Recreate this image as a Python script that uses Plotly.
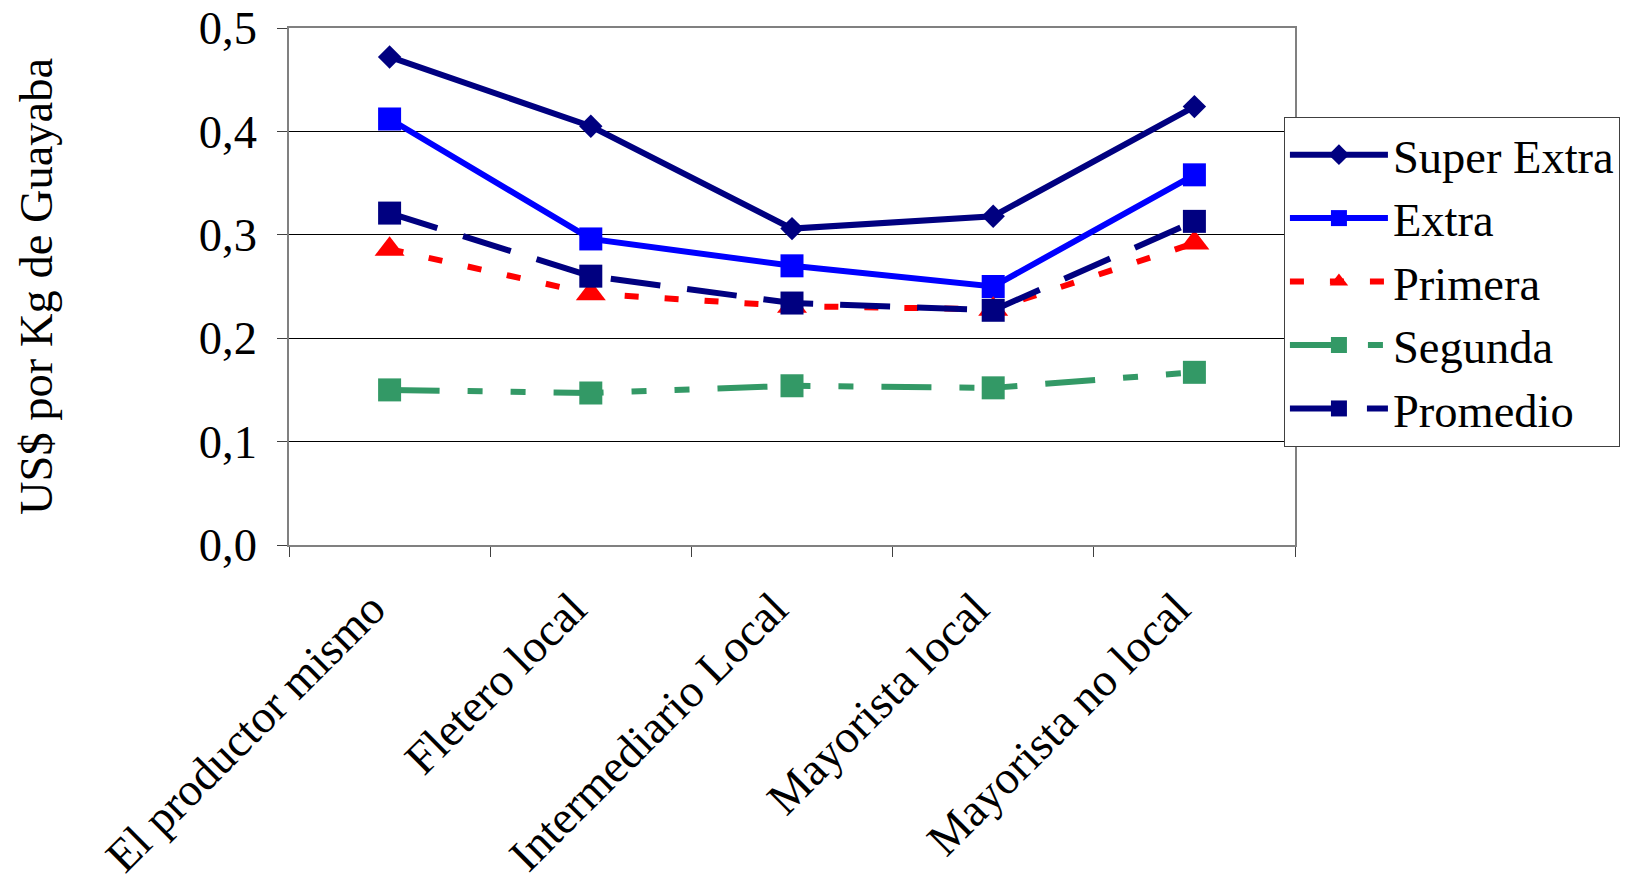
import plotly.graph_objects as go

categories = ["El productor mismo", "Fletero local", "Intermediario Local",
              "Mayorista local", "Mayorista no local"]
super_extra = [0.472, 0.405, 0.306, 0.318, 0.424]
extra = [0.412, 0.296, 0.270, 0.250, 0.358]
primera = [0.286, 0.243, 0.231, 0.228, 0.292]
segunda = [0.150, 0.147, 0.154, 0.152, 0.167]
promedio = [0.321, 0.260, 0.234, 0.227, 0.313]
y_ticks = [0.0, 0.1, 0.2, 0.3, 0.4, 0.5]
y_ticklabels = ["0,0", "0,1", "0,2", "0,3", "0,4", "0,5"]
y_title = "US$ por Kg de Guayaba"

FONT = "Liberation Serif, Times New Roman, serif"
FS = 46.5

series = [
    ("Super Extra", super_extra, "#000080", "solid", "diamond", 18),
    ("Extra", extra, "#0000FF", "solid", "square", 23),
    ("Primera", primera, "#FF0000", "14px,26px", "triangle-up", 26),
    ("Segunda", segunda, "#339966", "50px,28px,15px,28px,15px,28px", "square", 23),
    ("Promedio", promedio, "#000080", "50px,27px", "square", 23),
]

fig = go.Figure()
for name, vals, color, dash, symbol, size in series:
    fig.add_trace(go.Scatter(
        x=categories, y=vals, name=name, mode="lines+markers",
        line=dict(color=color, width=6, dash=dash),
        marker=dict(symbol=symbol, size=size, color=color, line=dict(width=0)),
    ))

fig.update_layout(
    width=1627, height=886,
    margin=dict(l=289, r=332, t=28, b=341, autoexpand=False),
    paper_bgcolor="white", plot_bgcolor="white",
    font=dict(family=FONT, size=FS, color="black"),
    showlegend=True,
    legend=dict(
        x=0.989, y=0.828, xanchor="left", yanchor="top",
        bordercolor="#404040", borderwidth=1, bgcolor="white",
        font=dict(family=FONT, size=FS, color="black"),
        itemwidth=98, tracegroupgap=0,
    ),
    annotations=[dict(
        text=y_title, xref="paper", yref="paper", x=-0.251, y=0.5,
        xanchor="center", yanchor="middle", textangle=-90, showarrow=False,
        font=dict(family=FONT, size=FS, color="black"),
    )],
)
fig.update_xaxes(
    type="category", range=[-0.5, 4.5], automargin=False,
    tickangle=-45, ticks="outside", tickson="boundaries", ticklen=10,
    tickcolor="#404040", showgrid=False,
    showline=True, linecolor="#808080", linewidth=1.5, mirror=True,
    ticklabelstandoff=16, ticklabelshift=-18, ticklabeloverflow="allow",
    tickfont=dict(family=FONT, size=FS, color="black"),
)
fig.update_yaxes(
    range=[0, 0.5], tickvals=y_ticks, ticktext=y_ticklabels, automargin=False,
    ticks="outside", ticklen=10, tickcolor="#404040",
    showgrid=True, gridcolor="black", gridwidth=1,
    showline=True, linecolor="#808080", linewidth=1.5, mirror=True,
    zeroline=False, ticklabelstandoff=11, ticklabeloverflow="allow",
    tickfont=dict(family=FONT, size=FS, color="black"),
)

fig.write_html("out.html", config={"displayModeBar": False},
               post_script="document.body.style.margin='0';document.body.style.overflow='hidden';")
